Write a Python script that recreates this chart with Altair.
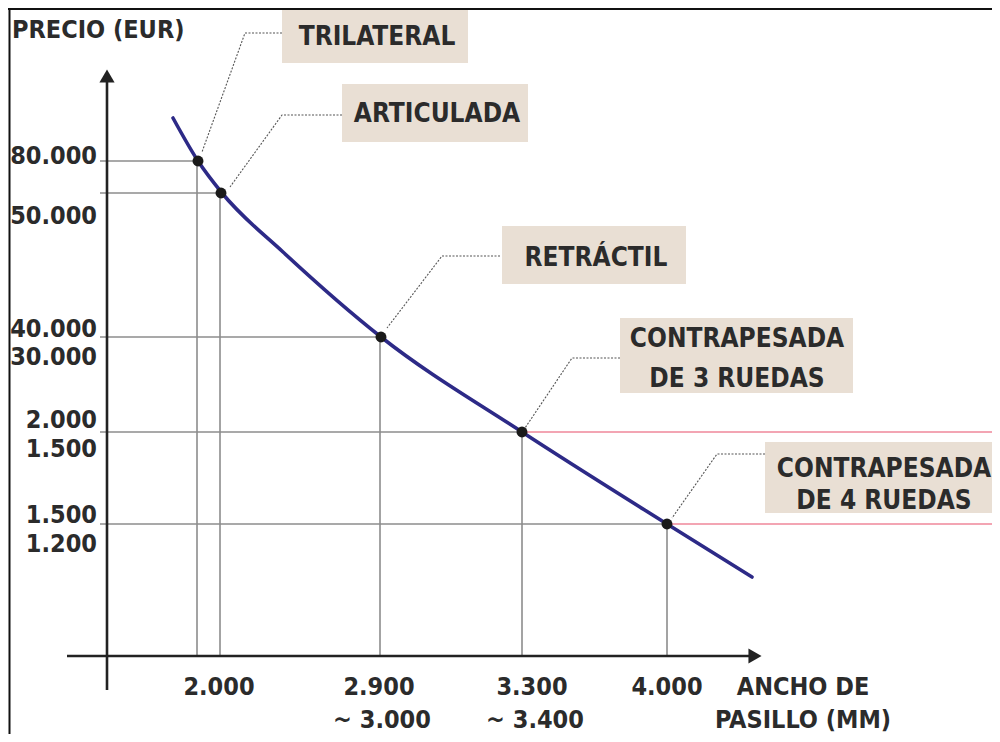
import altair as alt
import pandas as pd

FONT = "DejaVu Sans Condensed, DejaVu Sans, sans-serif"
TXT = "#2b2b2b"

# ---- schematic positions ----
labels = ["TRILATERAL", "ARTICULADA", "RETRÁCTIL",
          "CONTRAPESADA DE 3 RUEDAS", "CONTRAPESADA DE 4 RUEDAS"]
pt_x = [198, 221, 381, 522, 667]
pt_y = [161, 193, 337, 432, 524]
guide_x = [197, 220, 380, 522, 667]

curve_x = [173, 198, 222, 283, 381, 522, 667, 752]
curve_y = [118, 161, 193, 252, 337, 432, 524, 577]

axis_x0 = 100          # start of horizontal guides
base_y = 656           # x-axis level
yaxis_x = 107
right_edge = 992

# label boxes
box_x = [282, 342, 502, 620, 765]
box_x2 = [468, 528, 686, 853, 992]
box_y = [10, 84, 226, 318, 442]
box_y2 = [63, 142, 284, 393, 513]

# box text lines
line_text = ["TRILATERAL", "ARTICULADA", "RETRÁCTIL", "CONTRAPESADA",
             "DE 3 RUEDAS", "CONTRAPESADA", "DE 4 RUEDAS"]
line_x = [377, 437, 596, 737, 737, 884, 884]
line_y = [35, 112, 256, 337, 377, 467, 499]

# leader polylines: box edge -> elbow -> near point
lead_x = [[282, 245, 202], [342, 282, 230], [500, 442, 387],
          [620, 572, 525], [765, 717, 672]]
lead_y = [[33, 33, 152], [115, 115, 187], [256, 256, 328],
          [358, 358, 428], [454, 454, 518]]

# tick labels
ytick_text = ["80.000", "50.000", "40.000", "30.000", "2.000", "1.500", "1.500", "1.200"]
ytick_y = [154, 214, 327, 355, 418, 447, 513, 542]
ytick_xpos = 97

xtick_text = ["2.000", "2.900", "3.300", "4.000", "~ 3.000", "~ 3.400"]
xtick_x = [219, 379, 532, 667, 382, 535]
xtick_y = [685, 685, 685, 685, 718, 718]

# ---- scales ----
xs = alt.Scale(domain=[8, 992], nice=False, zero=False)
ys = alt.Scale(domain=[8, 734], nice=False, zero=False, reverse=True)


def X(f="x"):
    return alt.X(f"{f}:Q", scale=xs, axis=None)


def Y(f="y"):
    return alt.Y(f"{f}:Q", scale=ys, axis=None)


# frame (top & left)
frame = pd.DataFrame({"x": [8, 9.5], "x2": [992, 9.5], "y": [9, 8], "y2": [9, 734]})
frame_l = alt.Chart(frame).mark_rule(color="#111", strokeWidth=2).encode(
    x=X(), x2="x2:Q", y=Y(), y2="y2:Q")

# gray guides
hg = pd.DataFrame({"x": [axis_x0] * 5, "x2": pt_x, "y": pt_y, "y2": pt_y})
vg = pd.DataFrame({"x": guide_x, "x2": guide_x, "y": pt_y, "y2": [base_y] * 5})
guides = pd.concat([hg, vg])
guide_l = alt.Chart(guides).mark_rule(color="#8c8c8c", strokeWidth=1.6).encode(
    x=X(), x2="x2:Q", y=Y(), y2="y2:Q")

# pink lines
pink = pd.DataFrame({"x": pt_x[3:], "x2": [right_edge] * 2, "y": pt_y[3:], "y2": pt_y[3:]})
pink_l = alt.Chart(pink).mark_rule(color="#f3a5b3", strokeWidth=2).encode(
    x=X(), x2="x2:Q", y=Y(), y2="y2:Q")

# axes
axes = pd.DataFrame({"x": [67, yaxis_x], "x2": [752, yaxis_x],
                     "y": [base_y, 690], "y2": [base_y, 80]})
axes_l = alt.Chart(axes).mark_rule(color="#222", strokeWidth=2.6).encode(
    x=X(), x2="x2:Q", y=Y(), y2="y2:Q")
arrows = pd.DataFrame({"x": [yaxis_x, 755], "y": [76, base_y],
                       "s": ["triangle-up", "triangle-right"]})
arrow_l = alt.Chart(arrows).mark_point(filled=True, color="#222", opacity=1, size=230).encode(
    x=X(), y=Y(),
    shape=alt.Shape("s:N", scale=alt.Scale(domain=["triangle-up", "triangle-right"],
                                           range=["triangle-up", "triangle-right"]), legend=None))

# leaders
rows = []
for i, lab in enumerate(labels):
    for j in range(3):
        rows.append({"lab": lab, "o": j, "x": lead_x[i][j], "y": lead_y[i][j]})
lead_l = alt.Chart(pd.DataFrame(rows)).mark_line(
    color="#555", strokeWidth=1.1, strokeDash=[2, 1.5]).encode(
    x=X(), y=Y(), detail="lab:N", order="o:Q")

# curve
curve = pd.DataFrame({"x": curve_x, "y": curve_y})
curve_l = alt.Chart(curve).mark_line(color="#2d2a87", strokeWidth=3.6,
                                     interpolate="monotone", strokeCap="round").encode(
    x=X(), y=Y())

# points
pts = pd.DataFrame({"x": pt_x, "y": pt_y, "lab": labels})
pts_l = alt.Chart(pts).mark_circle(color="#1a1a1a", opacity=1, size=120).encode(x=X(), y=Y())

# boxes
boxes = pd.DataFrame({"x": box_x, "x2": box_x2, "y": box_y, "y2": box_y2})
box_l = alt.Chart(boxes).mark_rect(color="#e9dfd4").encode(
    x=X(), x2="x2:Q", y=Y(), y2="y2:Q")

# box texts
lt = pd.DataFrame({"x": line_x, "y": line_y, "t": line_text})
lt_l = alt.Chart(lt).mark_text(font=FONT, fontSize=26, fontWeight="bold", color=TXT,
                               align="center", baseline="middle", dy=2).encode(
    x=X(), y=Y(), text="t:N")

# y ticks
yt = pd.DataFrame({"x": [ytick_xpos] * len(ytick_text), "y": ytick_y, "t": ytick_text})
yt_l = alt.Chart(yt).mark_text(font=FONT, fontSize=25, fontWeight="bold", color=TXT,
                               align="right", baseline="middle", dy=2).encode(
    x=X(), y=Y(), text="t:N")

# x ticks
xt = pd.DataFrame({"x": xtick_x, "y": xtick_y, "t": xtick_text})
xt_l = alt.Chart(xt).mark_text(font=FONT, fontSize=25, fontWeight="bold", color=TXT,
                               align="center", baseline="middle", dy=2).encode(
    x=X(), y=Y(), text="t:N")

# axis titles
tt = pd.DataFrame({"x": [12], "y": [28], "t": ["PRECIO (EUR)"]})
tt_l = alt.Chart(tt).mark_text(font=FONT, fontSize=25, fontWeight="bold", color=TXT,
                               align="left", baseline="middle", dy=2).encode(
    x=X(), y=Y(), text="t:N")
xtt = pd.DataFrame({"x": [803, 803], "y": [685, 718], "t": ["ANCHO DE", "PASILLO (MM)"]})
xtt_l = alt.Chart(xtt).mark_text(font=FONT, fontSize=25, fontWeight="bold", color=TXT,
                                 align="center", baseline="middle", dy=2).encode(
    x=X(), y=Y(), text="t:N")

chart = alt.layer(
    frame_l, guide_l, pink_l, axes_l, arrow_l, lead_l, curve_l, pts_l,
    box_l, lt_l, yt_l, xt_l, tt_l, xtt_l
).properties(
    width=984, height=726,
    autosize=alt.AutoSizeParams(type="none"),
    padding=0,
    background="white",
).configure_view(stroke=None)

chart.save("out.html", embed_options={"renderer": "svg", "actions": False})
